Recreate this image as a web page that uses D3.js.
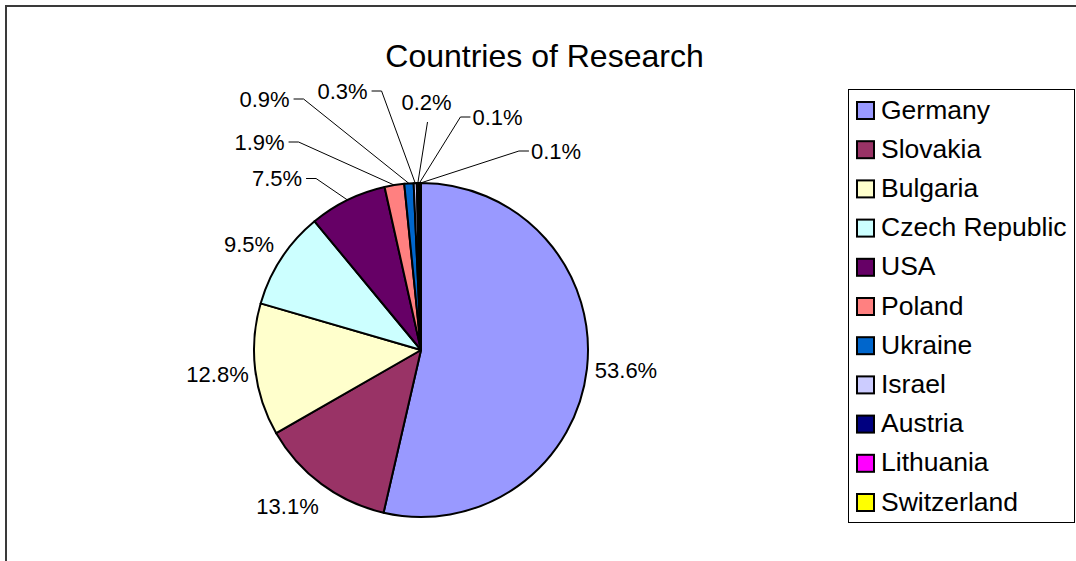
<!DOCTYPE html>
<html>
<head>
<meta charset="utf-8">
<script src="https://cdn.jsdelivr.net/npm/d3@7"></script>
<style>
  html, body { margin: 0; padding: 0; background: #fff; }
  svg { display: block; font-family: "Liberation Sans", Arial, sans-serif; }
</style>
</head>
<body>
<svg id="chart" width="1076" height="561"></svg>
<script>
// ---- data ----
const categories = ["Germany", "Slovakia", "Bulgaria", "Czech Republic", "USA", "Poland",
                    "Ukraine", "Israel", "Austria", "Lithuania", "Switzerland"];
const shares = [53.6, 13.1, 12.8, 9.5, 7.5, 1.9, 0.9, 0.3, 0.2, 0.1, 0.1];
const colors = ["#9999FF", "#993366", "#FFFFCC", "#CCFFFF", "#660066", "#FF8080",
                "#0066CC", "#CCCCFF", "#000080", "#FF00FF", "#FFFF00"];
const title = "Countries of Research";

// ---- layout (label placement relative to pie centre, leader flags) ----
const labelOffsets = [[205, 20], [-133.5, 156], [-203.5, 24], [-172, -105.5], [-144, -171.5],
                      [-161.5, -208], [-156.5, -251], [-78.5, -259], [5.5, -248], [76.5, -233], [135, -199]];
const hasLeader = [false, false, false, false, true, true, true, true, true, true, true];

const svg = d3.select("#chart");

// outer chart frame (extends past right/bottom edge)
svg.append("rect").attr("x", 6).attr("y", 6).attr("width", 1200).attr("height", 700)
  .attr("fill", "#fff").attr("stroke", "#3a3a3a").attr("stroke-width", 2);

// title
svg.append("text").attr("x", 544.5).attr("y", 67).attr("text-anchor", "middle")
  .attr("font-size", 32).attr("fill", "#000").text(title);

// pie
const cx = 421, cy = 350, R = 167;
const pie = d3.pie().value(d => d).sort(null);
const arcs = pie(shares);
const arc = d3.arc().innerRadius(0).outerRadius(R);

const g = svg.append("g").attr("transform", `translate(${cx},${cy})`);
g.selectAll("path.slice").data(arcs).enter().append("path")
  .attr("class", "slice")
  .attr("d", arc)
  .attr("fill", (d, i) => colors[i])
  .attr("stroke", "#000").attr("stroke-width", 2).attr("stroke-linejoin", "round");

// labels
const fs = 22;
const lab = g.selectAll("text.lab").data(arcs).enter().append("text")
  .attr("class", "lab")
  .attr("x", (d, i) => labelOffsets[i][0])
  .attr("y", (d, i) => labelOffsets[i][1] + 0.358 * fs)
  .attr("text-anchor", "middle")
  .attr("font-size", fs).attr("fill", "#000")
  .text(d => d3.format(".1f")(d.value) + "%");

// leader lines
lab.each(function(d, i) {
  if (!hasLeader[i]) return;
  const w = this.getComputedTextLength();
  const [lx, ly] = labelOffsets[i];
  const mid = (d.startAngle + d.endAngle) / 2;
  const px = R * Math.sin(mid), py = -R * Math.cos(mid);
  const left = lx - w / 2, right = lx + w / 2;
  let pts;
  if (px > right + 2) {
    pts = [[right + 4, ly], [right + 14, ly], [px, py]];
  } else if (px < left - 2) {
    pts = [[left - 2, ly], [left - 12, ly], [px, py]];
  } else {
    pts = [[lx + 1, ly + 20], [px, py]];
  }
  g.append("path").attr("d", d3.line()(pts))
    .attr("fill", "none").attr("stroke", "#000").attr("stroke-width", 1);
});

// legend
const lg = svg.append("g");
lg.append("rect").attr("x", 848.5).attr("y", 89.5).attr("width", 226).attr("height", 433)
  .attr("fill", "#fff").attr("stroke", "#000").attr("stroke-width", 1);
const step = 39.2, y0 = 110;
const items = lg.selectAll("g.item").data(categories).enter().append("g")
  .attr("class", "item")
  .attr("transform", (d, i) => `translate(0,${y0 + i * step})`);
items.append("rect").attr("x", 857).attr("y", -8).attr("width", 17).attr("height", 17)
  .attr("fill", (d, i) => colors[i]).attr("stroke", "#000").attr("stroke-width", 2);
items.append("text").attr("x", 881).attr("y", 8.5).attr("font-size", 26.5).attr("fill", "#000")
  .text(d => d);
</script>
</body>
</html>
